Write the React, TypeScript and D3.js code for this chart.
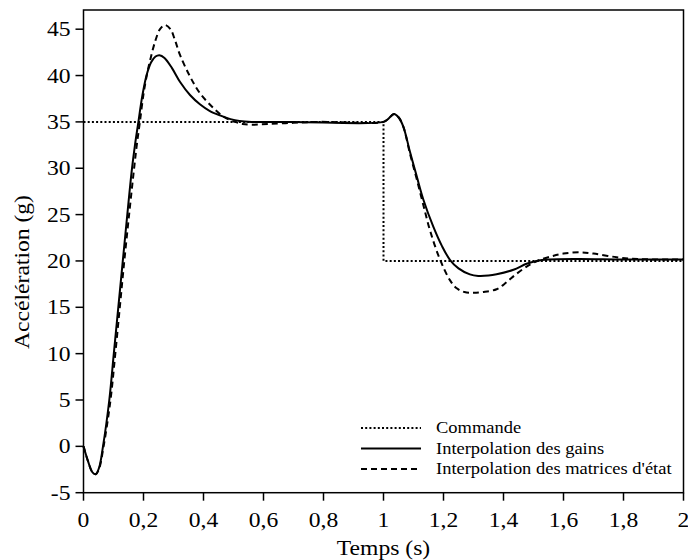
import React from "react";
import * as d3 from "d3";

const xTicks = [0, 0.2, 0.4, 0.6, 0.8, 1, 1.2, 1.4, 1.6, 1.8, 2];
const yTicks = [-5, 0, 5, 10, 15, 20, 25, 30, 35, 40, 45];

const commandeT = [0, 1, 1, 2];
const commandeV = [35, 35, 20, 20];

const gainsT = [0, 0.015, 0.03, 0.041, 0.052, 0.065, 0.086, 0.101, 0.116, 0.131, 0.146, 0.161, 0.172, 0.183, 0.196, 0.21, 0.225, 0.24, 0.253, 0.27, 0.295, 0.322, 0.355, 0.388, 0.42, 0.455, 0.49, 0.52, 0.56, 0.7, 1.0, 1.015, 1.035, 1.05, 1.066, 1.088, 1.111, 1.133, 1.166, 1.195, 1.222, 1.25, 1.288, 1.316, 1.35, 1.377, 1.433, 1.477, 1.51, 1.55, 1.65, 1.8, 2.0];
const gainsV = [0, -1.6, -2.8, -3.0, -2.3, 0, 5, 10, 15, 20, 25, 29.8, 32.6, 35, 37.8, 40, 41.4, 42.05, 42.2, 41.9, 40.8, 39.3, 37.9, 36.9, 36.2, 35.7, 35.3, 35.1, 35.0, 35, 35, 35.3, 35.85, 35.5, 34.5, 31.8, 29.1, 26.6, 23.7, 21.6, 20.1, 19.2, 18.55, 18.38, 18.42, 18.56, 19.05, 19.7, 20.0, 20.15, 20.2, 20.15, 20.15];

const matricesT = [0, 0.015, 0.03, 0.041, 0.052, 0.067, 0.09, 0.106, 0.121, 0.136, 0.152, 0.168, 0.178, 0.188, 0.2, 0.212, 0.224, 0.24, 0.255, 0.272, 0.29, 0.305, 0.322, 0.355, 0.388, 0.433, 0.47, 0.505, 0.53, 0.565, 0.62, 0.7, 0.78, 1.0, 1.015, 1.035, 1.05, 1.066, 1.088, 1.111, 1.133, 1.155, 1.188, 1.222, 1.244, 1.27, 1.3, 1.33, 1.377, 1.41, 1.443, 1.488, 1.52, 1.56, 1.6, 1.655, 1.7, 1.777, 1.85, 2.0];
const matricesV = [0, -1.6, -2.8, -3.0, -2.4, 0, 5, 10, 15, 20, 25, 29.8, 32.6, 35, 38, 40.2, 41.9, 43.8, 45.0, 45.45, 45.0, 43.8, 42.2, 39.9, 38.1, 36.5, 35.5, 35.0, 34.78, 34.7, 34.78, 34.9, 35, 35, 35.3, 35.85, 35.5, 34.5, 31.6, 28.8, 26.0, 23.3, 20.18, 17.9, 17.05, 16.65, 16.57, 16.65, 16.95, 17.7, 18.6, 19.6, 20.1, 20.5, 20.8, 20.93, 20.8, 20.4, 20.2, 20.15];

const legendLabels = ["Commande", "Interpolation des gains", "Interpolation des matrices d'état"];

const W = 688;
const H = 560;
const left = 83.5;
const right = 683.5;
const top = 10;
const bottom = 492.7;

const FONT = "Liberation Serif";
const SX = 1.18;

function T(props: { x: number; y: number; size: number; anchor?: string; rotate?: number; sx?: number; children: React.ReactNode }) {
  const { x, y, size, anchor = "start", rotate = 0, sx = SX, children } = props;
  const tr = `translate(${x},${y})` + (rotate ? ` rotate(${rotate})` : "") + ` scale(${sx},1)`;
  return (
    <text transform={tr} textAnchor={anchor} fontFamily={FONT} fontSize={size} fill="#000">
      {children}
    </text>
  );
}

export default function App() {
  const x = d3.scaleLinear().domain([0, 2]).range([left, right]);
  const y = d3.scaleLinear().domain([-5, 47.07]).range([bottom, top]);

  const zip = (ts: number[], vs: number[]) => ts.map((t, i) => [t, vs[i]] as [number, number]);
  const smooth = d3
    .line<[number, number]>()
    .x((d) => x(d[0]))
    .y((d) => y(d[1]))
    .curve(d3.curveCatmullRom.alpha(0.5));
  const straight = d3
    .line<[number, number]>()
    .x((d) => x(d[0]))
    .y((d) => y(d[1]));

  const fmt = (v: number) => String(v).replace(".", ",");

  const legendStyles = [
    { dash: "2,2.2", width: 2 },
    { dash: "none", width: 2 },
    { dash: "6,4", width: 2 },
  ];

  return (
    <div style={{ position: "absolute", left: 0, top: 0 }}>
      <svg width={W} height={H} style={{ display: "block", background: "#fff" }}>
        <rect x={0} y={0} width={W} height={H} fill="#fff" />
        <path d={straight(zip(commandeT, commandeV)) || ""} fill="none" stroke="#000" strokeWidth={2} strokeDasharray="2,2.2" />
        <path d={smooth(zip(matricesT, matricesV)) || ""} fill="none" stroke="#000" strokeWidth={2} strokeDasharray="6,4" />
        <path d={smooth(zip(gainsT, gainsV)) || ""} fill="none" stroke="#000" strokeWidth={2} />

        <rect x={left} y={top} width={right - left} height={bottom - top} fill="none" stroke="#000" strokeWidth={1.5} />

        {yTicks.map((v) => (
          <g key={"y" + v}>
            <line x1={left - 8} x2={left} y1={y(v)} y2={y(v)} stroke="#000" strokeWidth={1.5} />
            <T x={left - 13} y={y(v) + 7} size={20} anchor="end">
              {v}
            </T>
          </g>
        ))}
        {xTicks.map((v) => (
          <g key={"x" + v}>
            <line x1={x(v)} x2={x(v)} y1={bottom} y2={bottom + 8} stroke="#000" strokeWidth={1.5} />
            <T x={x(v)} y={527} size={20} anchor="middle">
              {fmt(v)}
            </T>
          </g>
        ))}

        <T x={(left + right) / 2} y={555} size={20} anchor="middle">
          Temps (s)
        </T>
        <T x={29} y={272} size={20} anchor="middle" rotate={-90}>
          Accélération (g)
        </T>

        {legendLabels.map((lab, i) => (
          <g key={lab}>
            <line
              x1={361}
              x2={421}
              y1={428 + i * 20.5}
              y2={428 + i * 20.5}
              stroke="#000"
              strokeWidth={legendStyles[i].width}
              strokeDasharray={legendStyles[i].dash}
            />
            <T x={436} y={433 + i * 20.5} size={16} sx={1.155}>
              {lab}
            </T>
          </g>
        ))}
      </svg>
    </div>
  );
}
